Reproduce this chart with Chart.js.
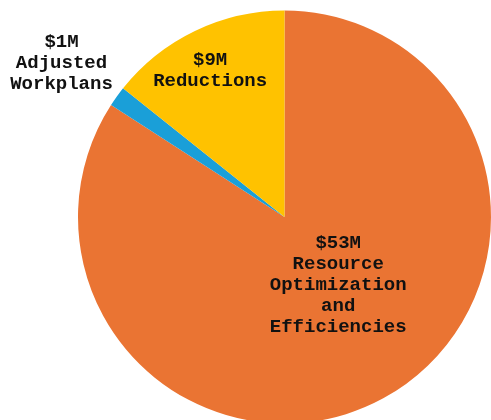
<!DOCTYPE html>
<html lang="en">
<head>
  <meta charset="UTF-8">
  <title>Savings by Category</title>
  <script src="https://cdn.jsdelivr.net/npm/chart.js"></script>
  <style>
    html, body { margin: 0; padding: 0; background: #fff; overflow: hidden; }
    #wrap { width: 491px; height: 420px; overflow: hidden; }
  </style>
</head>
<body>
  <div id="wrap">
    <canvas id="pieChart" width="491" height="434"></canvas>
  </div>
  <script>
    // savings in $M, clockwise from 12 o'clock
    const categories = ['Resource Optimization and Efficiencies', 'Adjusted Workplans', 'Reductions'];
    const values = [53, 1, 9];
    const labelLines = [
      ['$53M', 'Resource', 'Optimization', 'and', 'Efficiencies'],
      ['$1M', 'Adjusted', 'Workplans'],
      ['$9M', 'Reductions']
    ];
    const sliceColors = ['#EA7433', '#1A9FD8', '#FFC200'];

    // label centres relative to the pie centre, in units of radius
    const labelOffsets = [
      [0.26, 0.33],
      [-1.08, -0.745],
      [-0.36, -0.71]
    ];

    const sliceLabels = {
      id: 'sliceLabels',
      afterDatasetsDraw(chart) {
        const ctx = chart.ctx;
        const meta = chart.getDatasetMeta(0);
        ctx.save();
        ctx.font = 'bold 19px "Liberation Mono", "Courier New", monospace';
        ctx.fillStyle = '#111';
        ctx.textAlign = 'center';
        ctx.textBaseline = 'middle';
        const lineH = 21;
        meta.data.forEach((arc, i) => {
          const r = arc.outerRadius;
          const cx = arc.x + labelOffsets[i][0] * r;
          const cy = arc.y + labelOffsets[i][1] * r;
          const lines = labelLines[i];
          const top = cy - (lines.length - 1) * lineH / 2;
          lines.forEach((t, k) => ctx.fillText(t, cx, top + k * lineH));
        });
        ctx.restore();
      }
    };

    new Chart(document.getElementById('pieChart'), {
      type: 'pie',
      data: {
        labels: categories,
        datasets: [{
          data: values,
          backgroundColor: sliceColors,
          borderWidth: 0
        }]
      },
      options: {
        responsive: false,
        animation: false,
        layout: { padding: { left: 78, right: 0, top: 10, bottom: 10 } },
        plugins: {
          legend: { display: false },
          tooltip: { enabled: false }
        }
      },
      plugins: [sliceLabels]
    });
  </script>
</body>
</html>
